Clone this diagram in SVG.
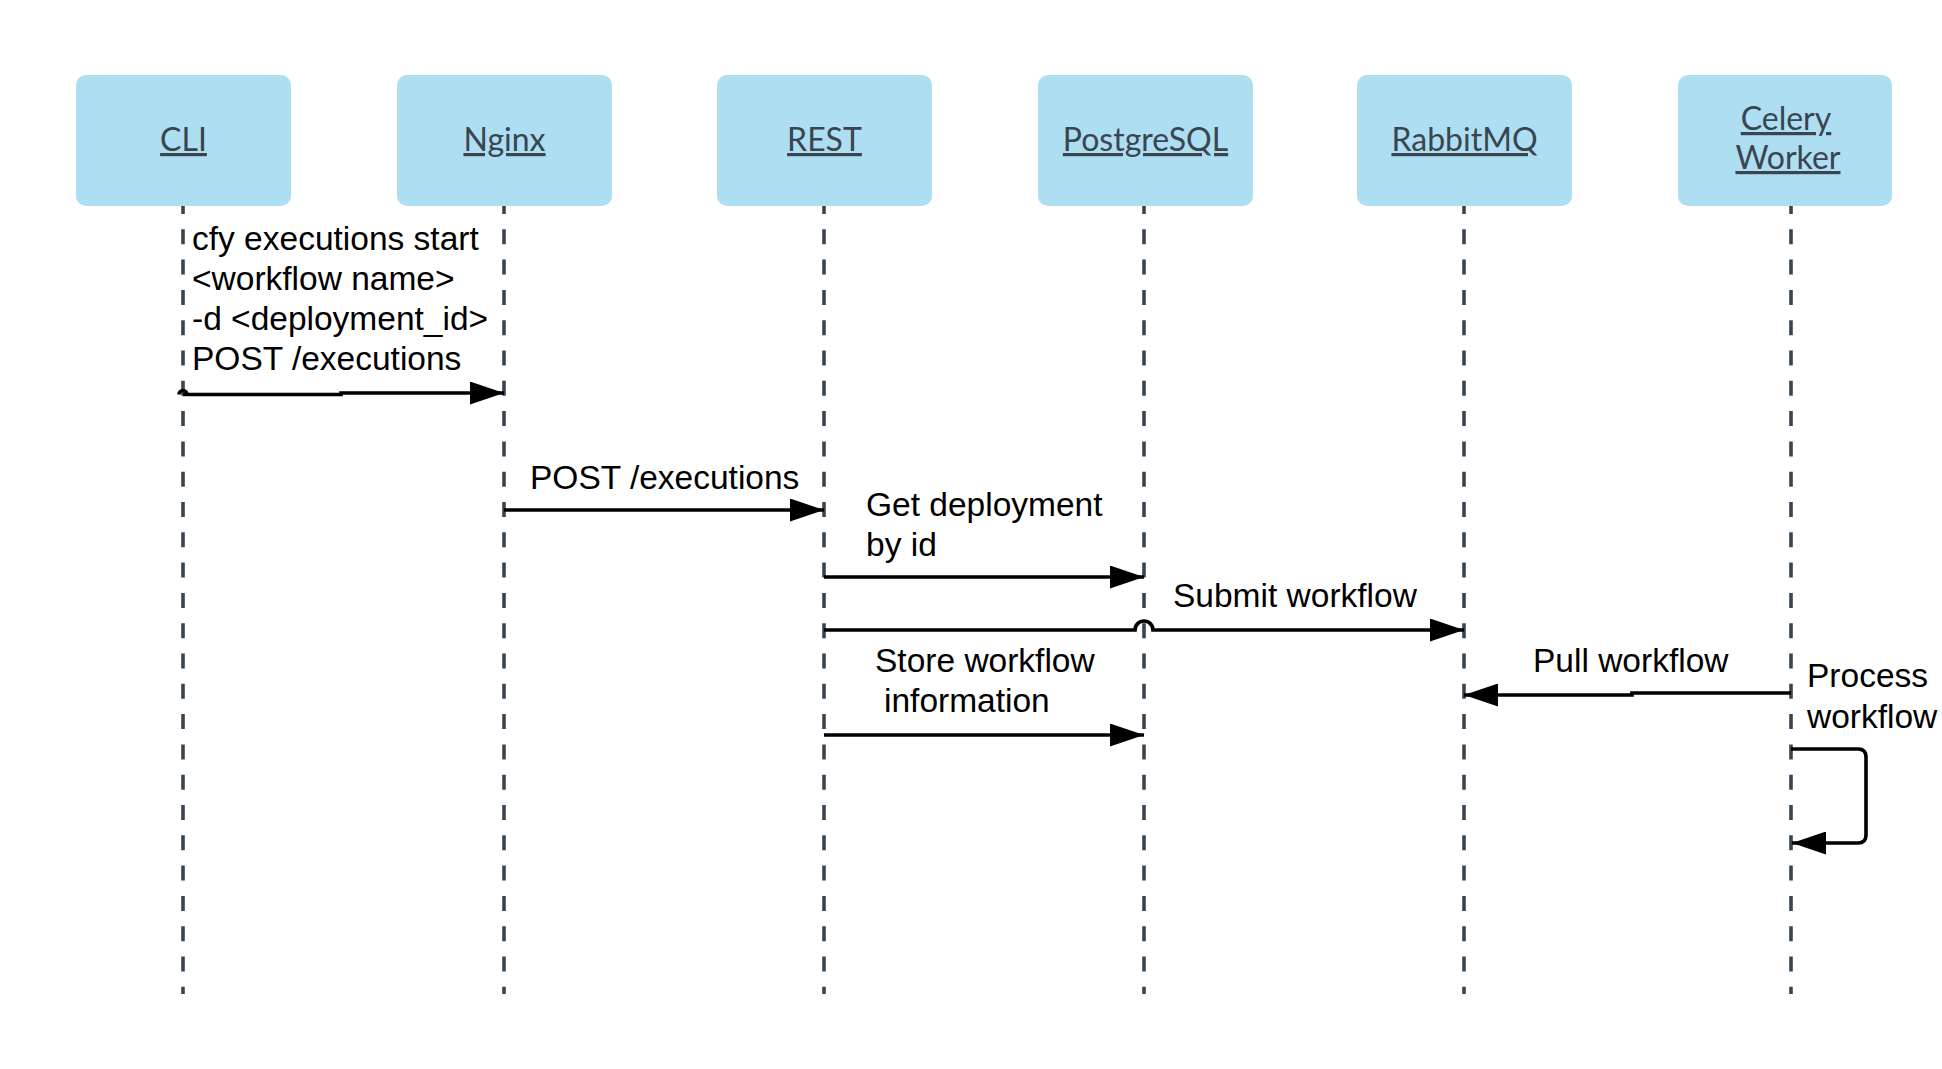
<svg xmlns="http://www.w3.org/2000/svg" width="1942" height="1069" viewBox="0 0 1942 1069">
<style>
  .box { fill: #ADDEF2; }
  .title { font-family: Lato, "Open Sans", "Liberation Sans", sans-serif; font-size: 32px; fill: #3A4550; text-anchor: middle; text-decoration: underline; }
  .life { stroke: #3A4550; stroke-width: 3.6; stroke-dasharray: 15 15.3; stroke-dashoffset: 7; fill: none; }
  .msg { stroke: #000; stroke-width: 3.6; fill: none; }
  .lbl { font-family: "Liberation Sans", Arial, sans-serif; font-size: 33.5px; fill: #000; }
</style>
<defs>
  <marker id="arrow" markerUnits="userSpaceOnUse" markerWidth="35" markerHeight="23" refX="34" refY="11.5" orient="auto">
    <path d="M0,0 L34,11.5 L0,23 Z" fill="#000"/>
  </marker>
</defs>
<rect width="1942" height="1069" fill="#fff"/>

<g id="lifelines">
  <line class="life" x1="183" y1="206" x2="183" y2="994"/>
  <line class="life" x1="504" y1="206" x2="504" y2="994"/>
  <line class="life" x1="824" y1="206" x2="824" y2="994"/>
  <line class="life" x1="1144" y1="206" x2="1144" y2="994"/>
  <line class="life" x1="1464" y1="206" x2="1464" y2="994"/>
  <line class="life" x1="1791" y1="206" x2="1791" y2="994"/>
</g>

<g id="node-cli">
  <rect class="box" x="76" y="75" width="215" height="131" rx="10"/>
  <text class="title" x="183.5" y="151">CLI</text>
</g>
<g id="node-nginx">
  <rect class="box" x="397" y="75" width="215" height="131" rx="10"/>
  <text class="title" x="504.5" y="151">Nginx</text>
</g>
<g id="node-rest">
  <rect class="box" x="717" y="75" width="215" height="131" rx="10"/>
  <text class="title" x="824.5" y="151">REST</text>
</g>
<g id="node-postgresql">
  <rect class="box" x="1038" y="75" width="215" height="131" rx="10"/>
  <text class="title" x="1145.5" y="151">PostgreSQL</text>
</g>
<g id="node-rabbitmq">
  <rect class="box" x="1357" y="75" width="215" height="131" rx="10"/>
  <text class="title" x="1464.5" y="151">RabbitMQ</text>
</g>
<g id="node-celery">
  <rect class="box" x="1678" y="75" width="214" height="131" rx="10"/>
  <text class="title" x="1786" y="130">Celery</text>
  <text class="title" x="1788" y="169">Worker</text>
</g>

<g id="connectors">
  <path class="msg" d="M179,394.5 A4,4 0 0 1 187,394.5"/>
  <path class="msg" d="M183,394.5 H341 V393 H504" marker-end="url(#arrow)"/>
  <path class="msg" d="M504,510 H824" marker-end="url(#arrow)"/>
  <path class="msg" d="M824,577 H1144" marker-end="url(#arrow)"/>
  <path class="msg" d="M824,630 H1135 A9,9 0 0 1 1153,630 H1464" marker-end="url(#arrow)"/>
  <path class="msg" d="M824,735 H1144" marker-end="url(#arrow)"/>
  <path class="msg" d="M1791,693 H1632 V695 H1464" marker-end="url(#arrow)"/>
  <path class="msg" d="M1791,749 H1858 Q1866,749 1866,757 V835 Q1866,843 1858,843 H1792" marker-end="url(#arrow)"/>
</g>

<g id="labels">
  <text class="lbl" x="192" y="250">cfy executions start</text>
  <text class="lbl" x="192" y="290">&lt;workflow name&gt;</text>
  <text class="lbl" x="192" y="330">-d &lt;deployment_id&gt;</text>
  <text class="lbl" x="192" y="370">POST /executions</text>
  <text class="lbl" x="530" y="489">POST /executions</text>
  <text class="lbl" x="866" y="516">Get deployment</text>
  <text class="lbl" x="866" y="556">by id</text>
  <text class="lbl" x="1173" y="607">Submit workflow</text>
  <text class="lbl" x="875" y="672">Store workflow</text>
  <text class="lbl" x="884" y="712">information</text>
  <text class="lbl" x="1533" y="672">Pull workflow</text>
  <text class="lbl" x="1807" y="687">Process</text>
  <text class="lbl" x="1807" y="728">workflow</text>
</g>
</svg>
